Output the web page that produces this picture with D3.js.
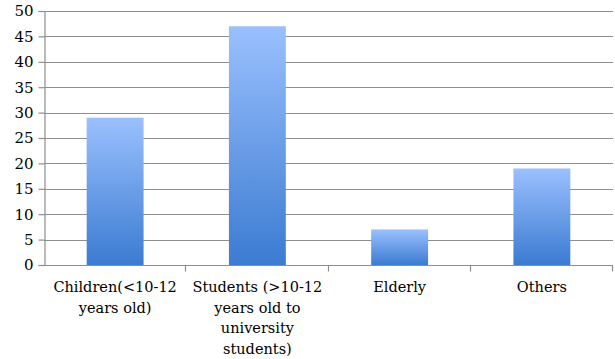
<!DOCTYPE html>
<html>
<head>
<meta charset="utf-8">
<script src="https://cdn.jsdelivr.net/npm/d3@7"></script>
<style>
  html, body { margin: 0; padding: 0; background: #fff; }
</style>
</head>
<body>
<svg id="chart" width="615" height="359"></svg>
<script>
// Respondent groups and their counts
const categories = [
  ["Children(<10-12", "years old)"],
  ["Students (>10-12", "years old to", "university", "students)"],
  ["Elderly"],
  ["Others"]
];
const values = [29, 47, 7, 19];
const yTicks = [0, 5, 10, 15, 20, 25, 30, 35, 40, 45, 50];

const W = 615, H = 359;
const margin = { left: 44, right: 2, top: 11, bottom: 94 };
const FONT = "'DejaVu Serif', serif";

const svg = d3.select("#chart");

const keys = categories.map((c, i) => i);
const x = d3.scaleBand()
  .domain(keys)
  .range([margin.left, W - margin.right])
  .paddingInner(0.6)
  .paddingOuter(0.3);

const y = d3.scaleLinear()
  .domain([0, 50])
  .range([H - margin.bottom, margin.top]);

// Vertical blue gradient for the bars
const defs = svg.append("defs");
const grad = defs.append("linearGradient")
  .attr("id", "barGrad")
  .attr("x1", 0).attr("y1", 0).attr("x2", 0).attr("y2", 1);
grad.append("stop").attr("offset", "0%").attr("stop-color", "#9AC0FE");
grad.append("stop").attr("offset", "100%").attr("stop-color", "#3B7BD1");

// Horizontal gridlines
svg.append("g")
  .selectAll("line")
  .data(yTicks.filter(t => t > 0))
  .join("line")
  .attr("x1", margin.left)
  .attr("x2", W - margin.right)
  .attr("y1", d => Math.round(y(d)) + 0.5)
  .attr("y2", d => Math.round(y(d)) + 0.5)
  .attr("stroke", "#8e8e8e")
  .attr("stroke-width", 1.2);

// Y axis
const yAxis = svg.append("g")
  .attr("transform", `translate(${margin.left + 0.5},0)`)
  .call(d3.axisLeft(y).tickValues(yTicks).tickSize(6).tickPadding(5));
yAxis.attr("font-family", FONT).attr("font-size", 15);
yAxis.select(".domain").attr("stroke", "#8e8e8e").attr("stroke-width", 1.2);
yAxis.selectAll(".tick line").attr("stroke", "#8e8e8e").attr("stroke-width", 1.2);
yAxis.selectAll(".tick text").attr("fill", "#000");

// X axis baseline with ticks at category boundaries
const baseY = Math.round(y(0)) + 0.5;
const bounds = d3.range(keys.length + 1).map(i => margin.left + i * (W - margin.right - margin.left) / keys.length);
svg.append("line")
  .attr("x1", margin.left).attr("x2", W - margin.right)
  .attr("y1", baseY).attr("y2", baseY)
  .attr("stroke", "#8e8e8e").attr("stroke-width", 1.2);
svg.append("g")
  .selectAll("line")
  .data(bounds.slice(1))
  .join("line")
  .attr("x1", d => Math.round(d) - 0.5).attr("x2", d => Math.round(d) - 0.5)
  .attr("y1", baseY).attr("y2", baseY + 6)
  .attr("stroke", "#8e8e8e").attr("stroke-width", 1.2);

// Bars
svg.append("g")
  .selectAll("rect")
  .data(values)
  .join("rect")
  .attr("x", (d, i) => x(i))
  .attr("width", x.bandwidth())
  .attr("y", d => y(d))
  .attr("height", d => y(0) - y(d))
  .attr("fill", "url(#barGrad)");

// Category labels, wrapped on several lines
const lab = svg.append("g")
  .attr("font-family", FONT)
  .attr("font-size", 14.5)
  .selectAll("text")
  .data(categories)
  .join("text")
  .attr("text-anchor", "middle")
  .attr("fill", "#000")
  .attr("x", (d, i) => x(i) + x.bandwidth() / 2)
  .attr("y", 292);
lab.selectAll("tspan")
  .data(d => d)
  .join("tspan")
  .attr("x", function () { return d3.select(this.parentNode).attr("x"); })
  .attr("dy", (d, i) => i === 0 ? 0 : 20.6)
  .text(d => d);
</script>
</body>
</html>
